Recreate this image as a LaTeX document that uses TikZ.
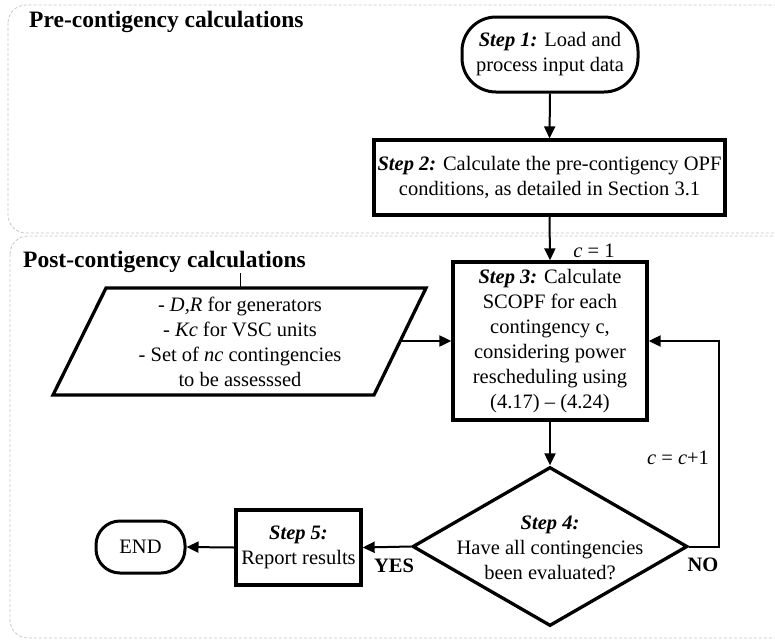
\documentclass[tikz,border=0pt]{standalone}
\usepackage{fontspec}
\setmainfont{Liberation Serif}
\usetikzlibrary{shapes.geometric,arrows.meta}
\begin{document}
\begin{tikzpicture}[x=1pt,y=-1pt,
  font=\fontsize{20.5}{25}\selectfont,
  region/.style={draw=black!22, line width=0.8pt, dash pattern=on 3pt off 2pt, rounded corners=18pt},
  box/.style={draw, line width=3.3pt, align=center, inner sep=0pt},
  ttl/.style={font=\fontsize{23.5}{28}\selectfont\bfseries, anchor=west, inner sep=0pt},
  lbl/.style={inner sep=0pt},
  arr/.style={line width=2pt, -{Triangle[length=12pt,width=11pt]}}]
\useasboundingbox (0,0) rectangle (775,640);
% regions
\draw[region] (8,5) rectangle (800,233);
\draw[region] (10,236) rectangle (800,638);
\node[ttl] (pre) at (29,22) {Pre-contigency calculations};
\node[ttl] (post) at (23,262) {Post-contigency calculations};
% steps
\node[box, rounded corners=34pt, line width=3pt, minimum width=176pt, minimum height=75pt] (s1) at (550,54.5)
  {\textbf{\textit{Step 1:}} Load and\\process input data};
\node[box, minimum width=351pt, minimum height=75pt] (s2) at (549.5,177.5)
  {\textbf{\textit{Step 2:}} Calculate the pre-contigency OPF\\conditions, as detailed in Section 3.1};
\node[box, minimum width=194pt, minimum height=158pt] (s3) at (550,341)
  {\textbf{\textit{Step 3:}} Calculate\\SCOPF for each\\contingency c,\\considering power\\rescheduling using\\(4.17) -- (4.24)};
\node[draw, diamond, line width=3.3pt, minimum width=275pt, minimum height=159pt, inner sep=0pt] (s4) at (550,546.5) {};
\node[lbl, align=center] (s4t) at (550,548) {\textbf{\textit{Step 4:}}\\Have all contingencies\\been evaluated?};
\node[box, minimum width=125pt, minimum height=75pt] (s5) at (298.5,547.5)
  {\textbf{\textit{Step 5:}}\\Report results};
\node[box, rounded corners=24pt, line width=3pt, minimum width=89pt, minimum height=52pt] (end) at (140.5,547) {END};
% input parallelogram
\coordinate (pTL) at (106,288);
\coordinate (pTR) at (426,288);
\coordinate (pBR) at (374,395);
\coordinate (pBL) at (53,395);
\draw[line width=3.3pt, line join=miter] (pTL) -- (pTR) -- (pBR) -- (pBL) -- cycle;
\node[lbl, align=center] (inp) at (240,342)
  {- \textit{D,R} for generators\\- \textit{Kc} for VSC units\\- Set of \textit{nc} contingencies\\to be assesssed};
\coordinate (pR) at (400,341);
\coordinate (tk) at (240,273);
\draw[line width=0.8pt] (tk) -- (tk |- pTL);
% connectors
\draw[arr] (s1.south) -- (s2.north);
\draw[arr] (s2.south) -- (s3.north);
\draw[arr] (s3.south) -- (s4.north);
\draw[arr] (pR) -- (s3.west);
\draw[arr] (s4.east) -- ++(30,0) |- (s3.east);
\draw[arr] (s4.west) -- (s5.east);
\draw[arr] (s5.west) -- (end.east);
% labels
\node[lbl] (c1) at (594,251) {\textit{c} = 1};
\node[lbl] (cc) at (678,458) {\textit{c} = \textit{c}+1};
\node[lbl, font=\fontsize{20.5}{25}\selectfont\bfseries] (yes) at (394,566) {YES};
\node[lbl, font=\fontsize{20.5}{25}\selectfont\bfseries] (no) at (703,565) {NO};
\end{tikzpicture}
\end{document}
